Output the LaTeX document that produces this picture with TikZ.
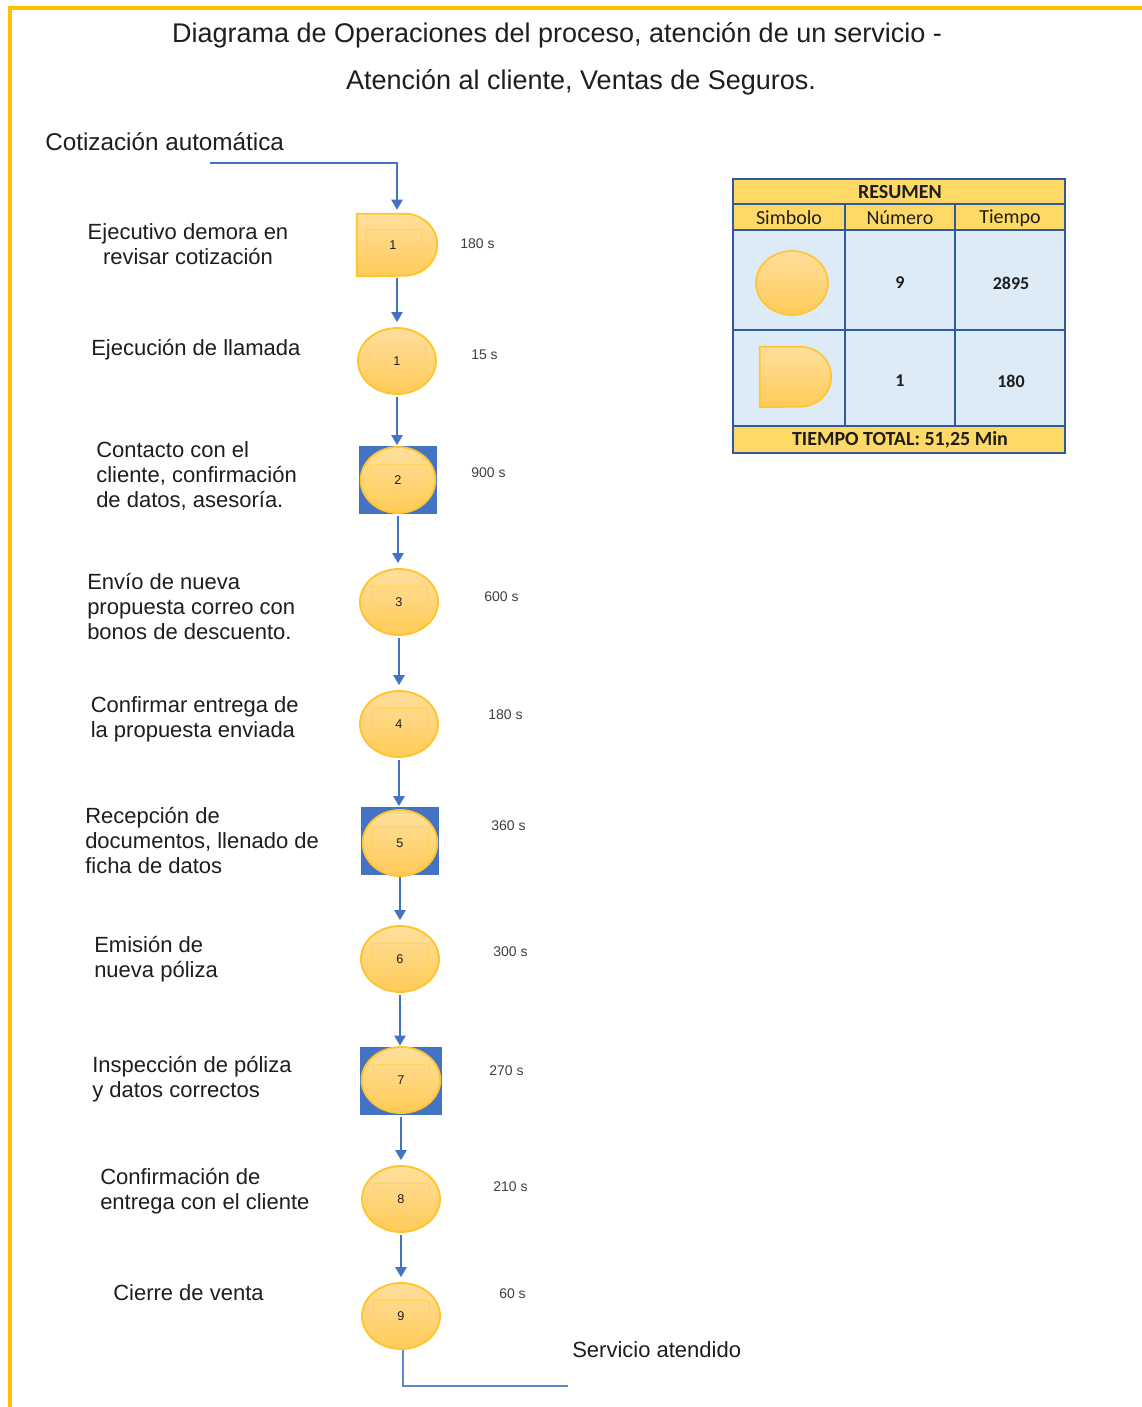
\documentclass[tikz,border=0pt]{standalone}
\usepackage{fontspec}
\setmainfont{Liberation Sans}
\newfontfamily\calfam{Carlito}
\usetikzlibrary{shapes.geometric,arrows.meta}

\definecolor{frameY}{HTML}{FFC000}
\definecolor{flowB}{HTML}{4472C4}
\definecolor{opEdge}{HTML}{FFC52E}
\definecolor{opTop}{HTML}{FFDF9C}
\definecolor{opBot}{HTML}{FFCB58}
\definecolor{boxEdge}{HTML}{FFD45E}
\definecolor{tabHead}{HTML}{FFD966}
\definecolor{tabBody}{HTML}{DDEBF7}
\definecolor{tabLine}{HTML}{3059A0}
\definecolor{txt}{HTML}{1E1E1E}

\newcommand\ttlfnt{\fontsize{20.25pt}{24pt}\selectfont}
\newcommand\labfnt{\fontsize{16.5pt}{18.4pt}\selectfont}
\newcommand\tmfnt{\fontsize{10.5pt}{12pt}\selectfont}
\newcommand\nrfnt{\fontsize{9.5pt}{11pt}\selectfont}
\newcommand\tabfnt{\calfam\fontsize{15pt}{17pt}\selectfont}
\newcommand\valfnt{\calfam\fontsize{13.5pt}{15pt}\selectfont\bfseries}

\begin{document}
\begin{tikzpicture}[x=0.75pt,y=-0.75pt,
  flow/.style={draw=flowB, line width=1.2pt, -{Triangle[length=7.5pt,width=8.5pt]},
               shorten <=1.5pt, shorten >=3.75pt},
  flowsq/.style={flow, shorten >=0.5pt},
  plain/.style={draw=flowB!85!white, line width=1.2pt},
  opnode/.style={ellipse, draw=opEdge, line width=1.4pt, top color=opTop, bottom color=opBot,
                 minimum width=58.5pt, minimum height=49.5pt, inner sep=0pt},
  delaysh/.style={draw=opEdge, line width=1.4pt, top color=opTop, bottom color=opBot},
  holder/.style={rectangle, inner sep=0pt, draw=none},
  bluesq/.style={rectangle, fill=flowB, minimum width=58.5pt, minimum height=51pt, inner sep=0pt},
  numbox/.style={draw=boxEdge, line width=0.5pt, minimum width=42pt, minimum height=24pt,
                 inner sep=0pt, font=\nrfnt, text=txt},
  lbl/.style={font=\labfnt, text=txt, align=left, anchor=base west, inner sep=0pt},
  tm/.style={font=\tmfnt, text=txt!85!white, anchor=base west, inner sep=0pt},
  ttl/.style={font=\ttlfnt, text=txt, anchor=base, inner sep=0pt},
  tabtxt/.style={font=\tabfnt, text=txt, inner sep=0pt}
]
\useasboundingbox (0,0) rectangle (1142,1407);
\fill[white] (0,0) rectangle (1142,1407);

% page frame (top and left sides)
\draw[frameY, line width=3pt] (9.7,1407) -- (9.7,8) -- (1142,8);

% title
\node[ttl] (title1) at (557,42) {Diagrama de Operaciones del proceso, atención de un servicio -};
\node[ttl] (title2) at (581,89) {Atención al cliente, Ventas de Seguros.};

% start and end texts
\node[lbl, font=\fontsize{18.2pt}{20pt}\selectfont] (startlbl) at (45,150) {Cotización automática};
\node[lbl] (endlbl) at (572,1357) {Servicio atendido};
\coordinate (cstart) at (208,163);
\coordinate (cend) at (568,1386);

% delay symbol
\node[holder, minimum width=60pt, minimum height=46.5pt] (d1) at (397,245) {};
\path[delaysh] (d1.south west) -- (d1.north west) -- ([xshift=-24.75pt]d1.north east)
  arc[start angle=90, end angle=-90, x radius=24.75pt, y radius=23.25pt] -- cycle;
\node[numbox] (n0) at (393,245) {1};

% operations
\node[opnode] (c1) at (397,361) {};
\node[numbox] (n1) at (c1) {1};

\node[bluesq] (s2) at (398,480) {};
\node[opnode, minimum width=56pt] (c2) at (398,480) {};
\node[numbox] (n2) at (c2) {2};

\node[opnode] (c3) at (399,602) {};
\node[numbox] (n3) at (c3) {3};

\node[opnode] (c4) at (399,724) {};
\node[numbox] (n4) at (c4) {4};

\node[bluesq] (s5) at (400,841) {};
\node[opnode, minimum width=56pt] (c5) at (400,843) {};
\node[numbox] (n5) at (c5) {5};

\node[opnode] (c6) at (400,959) {};
\node[numbox] (n6) at (c6) {6};

\node[bluesq, minimum width=61.5pt] (s7) at (401,1080.5) {};
\node[opnode, minimum width=59pt] (c7) at (401,1080) {};
\node[numbox] (n7) at (c7) {7};

\node[opnode] (c8) at (401,1199) {};
\node[numbox] (n8) at (c8) {8};

\node[opnode] (c9) at (401,1316) {};
\node[numbox] (n9) at (c9) {9};

% connectors (vertical, dropped from the upper shape)
\draw[flow, shorten >=3pt] (cstart) -| (d1.north);
\draw[flow] (d1.south) -- (d1.south |- c1.north);
\draw[flowsq] (c1.south) -- (c1.south |- s2.north);
\draw[flow] (s2.south) -- (s2.south |- c3.north);
\draw[flow] (c3.south) -- (c3.south |- c4.north);
\draw[flowsq] (c4.south) -- (c4.south |- s5.north);
\draw[flow] (s5.south) -- (s5.south |- c6.north);
\draw[flowsq] (c6.south) -- (c6.south |- s7.north);
\draw[flow] (s7.south) -- (s7.south |- c8.north);
\draw[flow] (c8.south) -- (c8.south |- c9.north);
\draw[plain] ([xshift=1.5pt]c9.south) |- (cend);

% step descriptions (node base = last line)
\node[lbl, align=center, anchor=base] (t0) at (188,264.5) {Ejecutivo demora en\\revisar cotización};
\node[lbl] (t1) at (91,355) {Ejecución de llamada};
\node[lbl] (t2) at (96,507) {Contacto con el\\cliente, confirmación\\de datos, asesoría.};
\node[lbl] (t3) at (87,639) {Envío de nueva\\propuesta correo con\\bonos de descuento.};
\node[lbl] (t4) at (90.5,737.5) {Confirmar entrega de\\la propuesta enviada};
\node[lbl] (t5) at (85,873) {Recepción de\\documentos, llenado de\\ficha de datos};
\node[lbl] (t6) at (94,977.5) {Emisión de\\nueva póliza};
\node[lbl] (t7) at (92,1097.5) {Inspección de póliza\\y datos correctos};
\node[lbl] (t8) at (100,1209.5) {Confirmación de\\entrega con el cliente};
\node[lbl] (t9) at (113,1300) {Cierre de venta};

% times
\node[tm] (m0) at (460,248) {180 s};
\node[tm] (m1) at (471,359) {15 s};
\node[tm] (m2) at (471,477) {900 s};
\node[tm] (m3) at (484,601) {600 s};
\node[tm] (m4) at (488,719) {180 s};
\node[tm] (m5) at (491,830) {360 s};
\node[tm] (m6) at (493,956) {300 s};
\node[tm] (m7) at (489,1075) {270 s};
\node[tm] (m8) at (493,1191) {210 s};
\node[tm] (m9) at (499,1298) {60 s};

% summary table
\fill[tabHead] (733,179) rectangle (1065,230);
\fill[tabBody] (733,230) rectangle (1065,426);
\fill[tabHead] (733,426) rectangle (1065,453);
\draw[tabLine, line width=1.9pt]
  (733,204) -- (1065,204) (733,230) -- (1065,230) (733,330) -- (1065,330)
  (733,426) -- (1065,426) (845,204) -- (845,426) (955,204) -- (955,426);
\draw[tabLine, line width=1.9pt] (733,179) rectangle (1065,453);

\node[tabtxt, font=\tabfnt\bfseries] (rh) at (900,192) {RESUMEN};
\node[tabtxt] (h1) at (789,218) {Simbolo};
\node[tabtxt] (h2) at (900,218) {Número};
\node[tabtxt] (h3) at (1010,218) {Tiempo};

\node[ellipse, draw=opEdge, line width=1.2pt, top color=opTop, bottom color=opBot,
      minimum width=54pt, minimum height=48pt, inner sep=0pt] (tc) at (792,283) {};
\node[holder, minimum width=53.25pt, minimum height=45pt] (td) at (795.5,377) {};
\path[delaysh, line width=1.2pt] (td.south west) -- (td.north west) -- ([xshift=-23.25pt]td.north east)
  arc[start angle=90, end angle=-90, x radius=23.25pt, y radius=22.5pt] -- cycle;

\node[tabtxt, font=\valfnt] (v1) at (900,283) {9};
\node[tabtxt, font=\valfnt] (v2) at (1011,283) {2895};
\node[tabtxt, font=\valfnt] (v3) at (900,381) {1};
\node[tabtxt, font=\valfnt] (v4) at (1011,381) {180};
\node[tabtxt, font=\tabfnt\bfseries] (tot) at (900,440) {TIEMPO TOTAL: 51,25 Min};
\end{tikzpicture}
\end{document}
